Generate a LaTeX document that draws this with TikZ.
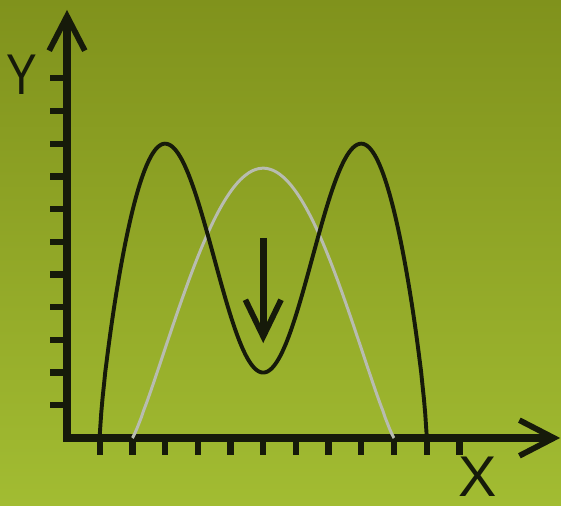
\documentclass[tikz,border=0pt]{standalone}
\usepackage{fontspec}
\setmainfont{Liberation Sans}
\definecolor{bgTop}{RGB}{128, 146, 28}
\definecolor{bgBottom}{RGB}{162, 188, 50}
\definecolor{inkDark}{RGB}{22, 26, 10}
\definecolor{inkGray}{RGB}{184, 188, 176}
\usetikzlibrary{arrows.meta, positioning}
\tikzset{
  axisline/.style={line width=7.5pt, inkDark, line join=miter,
    {Straight Barb[length=30pt, width=31pt, line width=5pt]}-{Straight Barb[length=30pt, width=31pt, line width=5pt]}},
  tickmark/.style={line width=5.5pt, inkDark},
  mainwave/.style={line width=3.4pt, inkDark, line join=round},
  shiftwave/.style={line width=2.6pt, inkGray, line join=round},
  droparrow/.style={line width=6pt, inkDark, -{Straight Barb[length=32pt, width=31pt, line width=5pt]}},
  axislabel/.style={inner sep=0pt, text=inkDark, font=\fontsize{50}{50}\selectfont},
}
\begin{document}
\begin{tikzpicture}
  \useasboundingbox (-2.049,-2.080) rectangle (15.107,13.394);
  \shade[top color=bgTop, bottom color=bgBottom] (-2.049,-2.080) rectangle (15.107,13.394);

  \coordinate (origin) at (0,0);
  \coordinate (ytip) at (0,13.09);
  \coordinate (xtip) at (15.08,0);
  \coordinate (droptop) at (6,6.12);
  \coordinate (droptip) at (6,2.9);

  \foreach \i in {1,...,12} \draw[tickmark] (\i,0) -- (\i,-0.52);
  \foreach \j in {1,...,11} \draw[tickmark] (0,\j) -- (-0.52,\j);
  \draw[axisline] (ytip) -- (origin) -- (xtip);

  \draw[shiftwave] (2,0) -- plot[domain=2.005:9.995, samples=120]
    (\x, {8.25*pow(abs(sin(22.5*(\x-2))), 1.15)}) -- (10,0);
  \draw[mainwave] (1,0)
    -- plot[domain=1.005:3, samples=50] (\x, {9*pow(abs(sin(45*(\x-1))), 0.75)})
    -- plot[domain=3:9, samples=120] (\x, {5.5+3.5*cos(60*(\x-3))})
    -- plot[domain=9:10.995, samples=50] (\x, {9*pow(abs(sin(45*(11-\x))), 0.75)})
    -- (11,0);

  \draw[droparrow] (droptop) -- (droptip);

  \node[axislabel, xscale=0.8] (ylabel) at (-1.376,11.1) {Y};
  \node[axislabel] (xlabel) at (12.57,-1.2) {X};
\end{tikzpicture}
\end{document}
